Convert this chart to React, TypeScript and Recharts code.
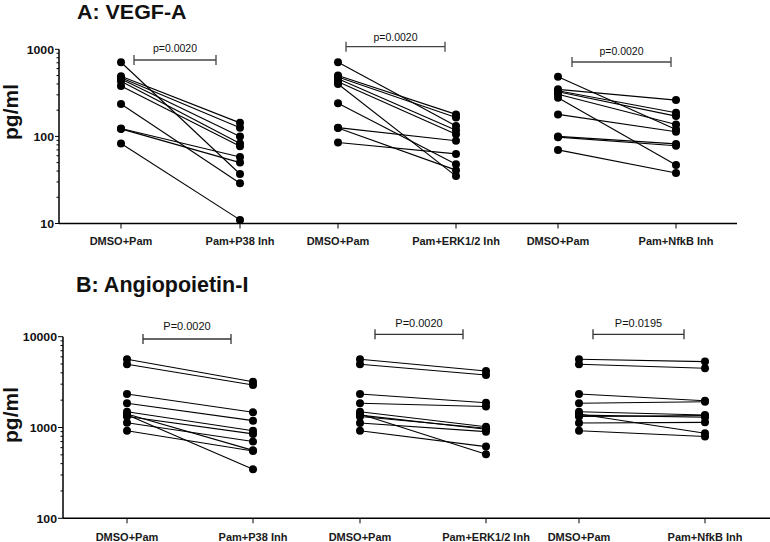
import React from 'react';
import { LineChart, Line, XAxis, YAxis } from 'recharts';

const FONT = '"Liberation Sans", Arial, sans-serif';

// ---------- Panel A: VEGF-A (pg/ml) ----------
const vegfP38Labels = ['DMSO+Pam', 'Pam+P38 Inh'];
const vegfP38Pre = [710, 490, 470, 455, 430, 380, 235, 123, 122, 83];
const vegfP38Post = [37, 143, 126, 100, 83, 77, 29, 58, 50, 11];

const vegfErkLabels = ['DMSO+Pam', 'Pam+ERK1/2 Inh'];
const vegfErkPre = [710, 500, 480, 460, 425, 400, 240, 126, 125, 85];
const vegfErkPost = [132, 179, 165, 118, 106, 35, 48, 89, 41, 63];

const vegfNfkbLabels = ['DMSO+Pam', 'Pam+NfkB Inh'];
const vegfNfkbPre = [484, 347, 335, 326, 304, 278, 179, 100, 98, 70];
const vegfNfkbPost = [120, 261, 187, 171, 137, 47, 113, 82, 78, 38];

const vegfDomain = [10, 1000];
const vegfMajorTicks = [10, 100, 1000];
const vegfTicks = [10, 20, 30, 40, 50, 60, 70, 80, 90, 100, 200, 300, 400, 500, 600, 700, 800, 900, 1000];
const vegfPValues = ['p=0.0020', 'p=0.0020', 'p=0.0020'];

// ---------- Panel B: Angiopoietin-I (pg/ml) ----------
const angP38Labels = ['DMSO+Pam', 'Pam+P38 Inh'];
const angP38Pre = [5640, 4970, 2340, 1850, 1490, 1410, 1380, 1320, 1130, 920];
const angP38Post = [3190, 2940, 1470, 1190, 920, 560, 346, 850, 700, 550];

const angErkLabels = ['DMSO+Pam', 'Pam+ERK1/2 Inh'];
const angErkPre = [5640, 4970, 2340, 1850, 1490, 1410, 1370, 1320, 1120, 920];
const angErkPost = [4190, 3790, 1875, 1700, 1020, 507, 955, 980, 900, 616];

const angNfkbLabels = ['DMSO+Pam', 'Pam+NfkB Inh'];
const angNfkbPre = [5640, 4970, 2340, 1850, 1490, 1410, 1370, 1320, 1120, 920];
const angNfkbPost = [5320, 4490, 1970, 1920, 1373, 863, 1295, 1350, 1140, 795];

const angDomain = [100, 10000];
const angMajorTicks = [100, 1000, 10000];
const angTicks = [100, 200, 300, 400, 500, 600, 700, 800, 900, 1000, 2000, 3000, 4000, 5000, 6000, 7000, 8000, 9000, 10000];
const angPValues = ['P=0.0020', 'P=0.0020', 'P=0.0195'];

function buildRows(labels: string[], pre: number[], post: number[]) {
  const a: any = { cond: labels[0] };
  const b: any = { cond: labels[1] };
  pre.forEach((v, i) => { a['s' + i] = v; });
  post.forEach((v, i) => { b['s' + i] = v; });
  return [a, b];
}

function makeYTick(major: number[], fontSize: number, majorLen: number, minorLen: number, sx: number) {
  return (props: any) => {
    const { x, y, payload } = props;
    const v = payload.value;
    const isMajor = major.includes(v);
    return (
      <g>
        <line x1={x - (isMajor ? majorLen : minorLen)} x2={x} y1={y} y2={y} stroke="#000" strokeWidth={1} />
        {isMajor && (
          <text
            transform={`translate(${x - majorLen - 1},${y}) scale(${sx},1)`}
            textAnchor="end"
            dominantBaseline="central"
            fontSize={fontSize}
            fontWeight="bold"
            fontFamily={FONT}
            fill="#111"
          >
            {v}
          </text>
        )}
      </g>
    );
  };
}

function makeXTick(offset: number, fontSize: number, sx: number) {
  return (props: any) => {
    const { x, y, payload } = props;
    return (
      <text
        transform={`translate(${x},${y + offset}) scale(${sx},1)`}
        textAnchor="middle"
        dominantBaseline="central"
        fontSize={fontSize}
        fontWeight="bold"
        fontFamily={FONT}
        fill="#1a1a1a"
      >
        {payload.value}
      </text>
    );
  };
}

type GroupProps = {
  left: number; top: number; width: number; height: number;
  marginTop: number; marginBottom: number; xAxisHeight: number;
  padL: number; padR: number; yWidth: number; showY: boolean;
  labels: string[]; pre: number[]; post: number[];
  domain: number[]; ticks: number[]; major: number[];
  yTick: any; xTick: any;
};

function Group(p: GroupProps) {
  const rows = buildRows(p.labels, p.pre, p.post);
  return (
    <div style={{ position: 'absolute', left: p.left, top: p.top }}>
      <LineChart width={p.width} height={p.height} data={rows}
        margin={{ top: p.marginTop, right: 0, bottom: p.marginBottom, left: 0 }}>
        <XAxis dataKey="cond" padding={{ left: p.padL, right: p.padR }} height={p.xAxisHeight}
          axisLine={{ stroke: '#000', strokeWidth: 1.5 }} tickLine={{ stroke: '#000', strokeWidth: 1 }}
          tickSize={5} tickMargin={0} interval={0} tick={p.xTick} />
        <YAxis type="number" scale="log" domain={p.domain} ticks={p.ticks} allowDataOverflow
          hide={!p.showY} width={p.showY ? p.yWidth : 0} interval={0}
          axisLine={{ stroke: '#000', strokeWidth: 1.5 }} tickLine={false} tickSize={0} tickMargin={0}
          tick={p.yTick} />
        {p.pre.map((_, i) => (
          <Line key={i} type="linear" dataKey={'s' + i} stroke="#000" strokeWidth={1.1}
            dot={{ r: 4, fill: '#000', stroke: 'none' }} activeDot={false} isAnimationActive={false} />
        ))}
      </LineChart>
    </div>
  );
}

const bracketsA = [
  { x1: 134, x2: 216, y: 60, ty: 48 },
  { x1: 346, x2: 445, y: 46.7, ty: 36.5 },
  { x1: 572, x2: 671, y: 62, ty: 51 },
];
const bracketsB = [
  { x1: 143, x2: 231, y: 339, ty: 326 },
  { x1: 375, x2: 463, y: 334.3, ty: 323.3 },
  { x1: 593, x2: 684, y: 334.3, ty: 323 },
];

export default function App() {
  const yTickA = makeYTick(vegfMajorTicks, 11, 4, 2.5, 1.12);
  const yTickB = makeYTick(angMajorTicks, 11, 5, 2.5, 1.12);
  const xTickA = makeXTick(12, 11, 1.0);
  const xTickB = makeXTick(14, 11, 1.0);

  const A = { top: 0, height: 260, marginTop: 49.3, marginBottom: 6.5, xAxisHeight: 30,
    domain: vegfDomain, ticks: vegfTicks, major: vegfMajorTicks, yTick: yTickA, xTick: xTickA, yWidth: 59 };
  const B = { top: 260, height: 282, marginTop: 76.7, marginBottom: 3.7, xAxisHeight: 20,
    domain: angDomain, ticks: angTicks, major: angMajorTicks, yTick: yTickB, xTick: xTickB, yWidth: 63 };

  return (
    <div style={{ position: 'absolute', left: 0, top: 0, width: 770, height: 542, background: '#fff', overflow: 'hidden' }}>
      <Group {...A} left={0} width={300} padL={62} padR={60} showY labels={vegfP38Labels} pre={vegfP38Pre} post={vegfP38Post} />
      <Group {...A} left={300} width={217} padL={38} padR={61} showY={false} labels={vegfErkLabels} pre={vegfErkPre} post={vegfErkPost} />
      <Group {...A} left={517} width={220} padL={41} padR={61} showY={false} labels={vegfNfkbLabels} pre={vegfNfkbPre} post={vegfNfkbPost} />

      <Group {...B} left={0} width={307} padL={64} padR={54} showY labels={angP38Labels} pre={angP38Pre} post={angP38Post} />
      <Group {...B} left={307} width={233} padL={53} padR={54} showY={false} labels={angErkLabels} pre={angErkPre} post={angErkPost} />
      <Group {...B} left={540} width={230} padL={39} padR={65} showY={false} labels={angNfkbLabels} pre={angNfkbPre} post={angNfkbPost} />

      <svg width={770} height={542} style={{ position: 'absolute', left: 0, top: 0, pointerEvents: 'none' }}>
        <text x={77} y={19} fontSize={19.5} fontWeight="bold" fontFamily={FONT} fill="#111"
          transform="translate(77,0) scale(1.1,1) translate(-77,0)">A: VEGF-A</text>
        <text x={76} y={291.5} fontSize={21.5} fontWeight="bold" fontFamily={FONT} fill="#111">B: Angiopoietin-I</text>
        <text x={18} y={112} fontSize={21} fontWeight="bold" fontFamily={FONT} fill="#111" textAnchor="middle"
          transform="rotate(-90,18,112)">pg/ml</text>
        <text x={18} y={415} fontSize={21} fontWeight="bold" fontFamily={FONT} fill="#111" textAnchor="middle"
          transform="rotate(-90,18,415)">pg/ml</text>
        {bracketsA.map((b, i) => (
          <g key={'a' + i} stroke="#444" strokeWidth={1.3}>
            <line x1={b.x1} x2={b.x2} y1={b.y} y2={b.y} />
            <line x1={b.x1} x2={b.x1} y1={b.y - 5} y2={b.y + 5} />
            <line x1={b.x2} x2={b.x2} y1={b.y - 5} y2={b.y + 5} />
            <text x={(b.x1 + b.x2) / 2} y={b.ty} stroke="none" fill="#111" fontSize={10.5} fontFamily={FONT}
              textAnchor="middle" dominantBaseline="central">{vegfPValues[i]}</text>
          </g>
        ))}
        {bracketsB.map((b, i) => (
          <g key={'b' + i} stroke="#333" strokeWidth={1.3}>
            <line x1={b.x1} x2={b.x2} y1={b.y} y2={b.y} />
            <line x1={b.x1} x2={b.x1} y1={b.y - 5} y2={b.y + 5} />
            <line x1={b.x2} x2={b.x2} y1={b.y - 5} y2={b.y + 5} />
            <text x={(b.x1 + b.x2) / 2} y={b.ty} stroke="none" fill="#111" fontSize={11} fontFamily={FONT}
              textAnchor="middle" dominantBaseline="central">{angPValues[i]}</text>
          </g>
        ))}
      </svg>
    </div>
  );
}
